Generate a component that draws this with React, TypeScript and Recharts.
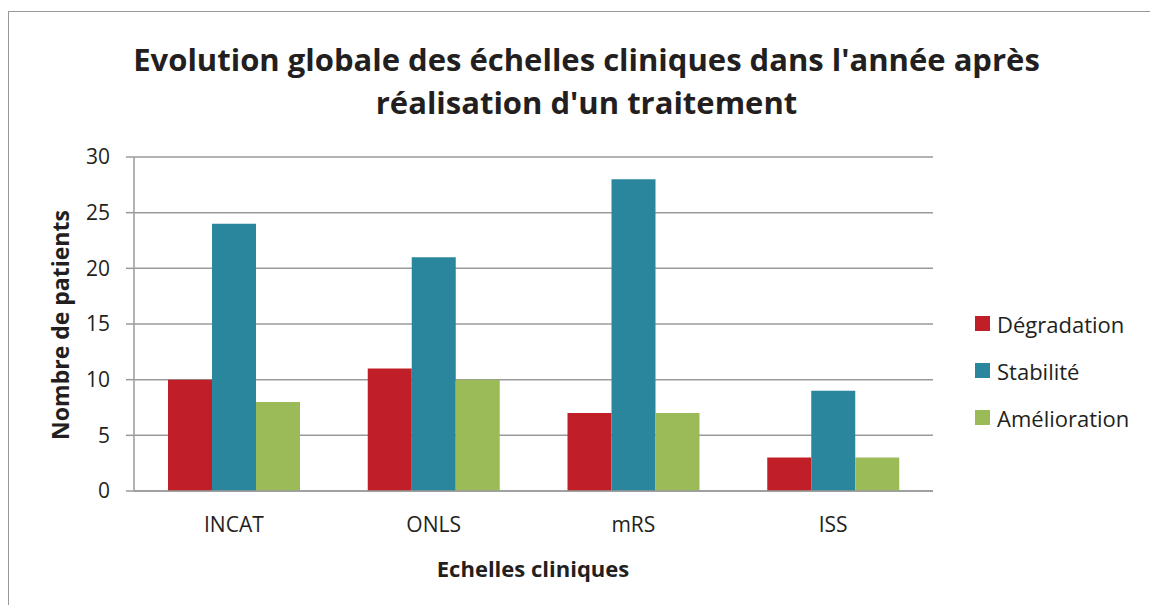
import { BarChart, Bar, XAxis, YAxis, CartesianGrid, Legend } from 'recharts';

const categories = ['INCAT', 'ONLS', 'mRS', 'ISS'];
const degradation = [10, 11, 7, 3];
const stabilite = [24, 21, 28, 9];
const amelioration = [8, 10, 7, 3];
const yTicks = [0, 5, 10, 15, 20, 25, 30];

const SERIES = [
  { key: 'degradation', name: 'Dégradation', color: '#C01F27' },
  { key: 'stabilite', name: 'Stabilité', color: '#2A869C' },
  { key: 'amelioration', name: 'Amélioration', color: '#9BBB59' },
];

const data = categories.map((name, i) => ({
  name,
  degradation: degradation[i],
  stabilite: stabilite[i],
  amelioration: amelioration[i],
}));

const FONT = '"Open Sans", "Noto Sans", sans-serif';
const TEXT = '#231F20';
const GRID = '#9a9a9a';

const LegendBox = () => (
  <div style={{ fontFamily: FONT, fontSize: 22, color: TEXT }}>
    {SERIES.map((s) => (
      <div key={s.key} style={{ display: 'flex', alignItems: 'center', height: 47 }}>
        <span style={{ width: 15, height: 15, background: s.color, marginRight: 7, display: 'inline-block' }} />
        <span>{s.name}</span>
      </div>
    ))}
  </div>
);

const App = () => {
  return (
    <div style={{ position: 'absolute', left: 0, top: 0, width: 1150, height: 605, overflow: 'hidden', background: '#fff' }}>
      <div
        style={{
          position: 'absolute',
          left: 8,
          top: 11,
          width: 1200,
          height: 700,
          borderLeft: '1.5px solid #999',
          borderTop: '1.5px solid #999',
        }}
      />
      <div
        style={{
          position: 'absolute',
          left: 0,
          top: 38,
          width: 1173,
          textAlign: 'center',
          fontFamily: FONT,
          fontWeight: 700,
          fontSize: 31,
          lineHeight: '43px',
          color: TEXT,
        }}
      >
        Evolution globale des échelles cliniques dans l'année après
        <br />
        réalisation d'un traitement
      </div>
      <div
        style={{
          position: 'absolute',
          left: 60,
          top: 325,
          transform: 'translate(-50%, -50%) rotate(-90deg)',
          whiteSpace: 'nowrap',
          fontFamily: FONT,
          fontWeight: 700,
          fontSize: 23,
          color: TEXT,
        }}
      >
        Nombre de patients
      </div>
      <div
        style={{
          position: 'absolute',
          left: 533,
          top: 568,
          transform: 'translate(-50%, -50%)',
          whiteSpace: 'nowrap',
          fontFamily: FONT,
          fontWeight: 700,
          fontSize: 22,
          color: TEXT,
        }}
      >
        Echelles cliniques
      </div>
      <BarChart
        width={1150}
        height={605}
        data={data}
        margin={{ top: 157, right: 217, bottom: 74, left: 74 }}
        barCategoryGap={34}
        barGap={0}
        style={{ position: 'absolute', left: 0, top: 0 }}
      >
        <CartesianGrid vertical={false} stroke={GRID} strokeWidth={1.5} />
        <XAxis
          dataKey="name"
          axisLine={{ stroke: GRID, strokeWidth: 1.5 }}
          tickLine={false}
          tick={{ fill: TEXT, fontSize: 21, fontFamily: FONT }}
          tickMargin={20}
          height={40}
        />
        <YAxis
          width={60}
          domain={[0, 30]}
          ticks={yTicks}
          interval={0}
          axisLine={{ stroke: GRID, strokeWidth: 1.5 }}
          tickLine={{ stroke: GRID, strokeWidth: 1.5 }}
          tickSize={8}
          tickMargin={16}
          tick={{ fill: TEXT, fontSize: 21, fontFamily: FONT }}
        />
        <Legend
          layout="horizontal"
          verticalAlign="middle"
          align="center"
          wrapperStyle={{ left: 975, top: 300, width: 180 }}
          content={() => <LegendBox />}
        />
        {SERIES.map((s) => (
          <Bar key={s.key} dataKey={s.key} name={s.name} fill={s.color} isAnimationActive={false} />
        ))}
      </BarChart>
    </div>
  );
};

export default App;
